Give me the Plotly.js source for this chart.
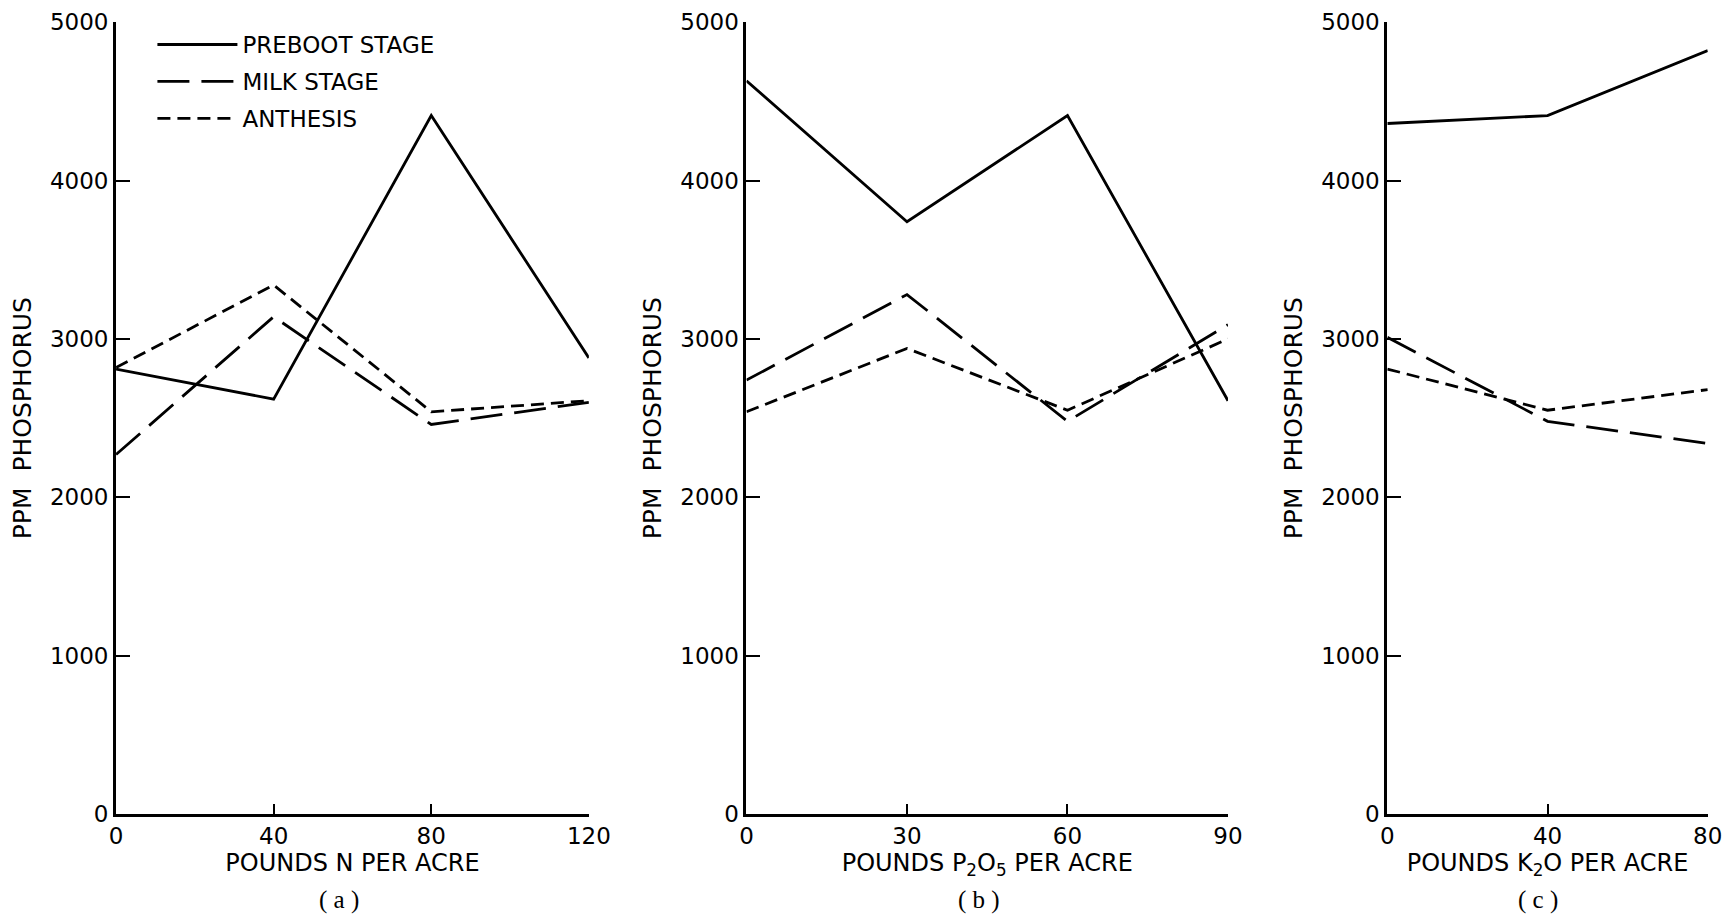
<!DOCTYPE html>
<html>
<head>
<meta charset="utf-8">
<script src="https://cdn.plot.ly/plotly-3.0.1.min.js"></script>
<style>html,body{margin:0;padding:0;background:#fff;}#chart{width:1732px;height:921px;}</style>
</head>
<body>
<div id="chart"></div>
<script>
// Panel (a): nitrogen
const nRates = [0, 40, 80, 120];
const nPreboot = [2810, 2620, 4410, 2880];
const nMilk = [2270, 3140, 2460, 2600];
const nAnthesis = [2820, 3340, 2540, 2610];
// Panel (b): phosphate
const pRates = [0, 30, 60, 90];
const pPreboot = [4630, 3740, 4410, 2610];
const pMilk = [2740, 3280, 2480, 3090];
const pAnthesis = [2540, 2940, 2550, 3000];
// Panel (c): potash
const kRates = [0, 40, 80];
const kPreboot = [4360, 4410, 4820];
const kMilk = [3010, 2480, 2340];
const kAnthesis = [2810, 2550, 2680];

const seriesNames = ["PREBOOT STAGE", "MILK STAGE", "ANTHESIS"];
const yTicks = [0, 1000, 2000, 3000, 4000, 5000];
const xTitles = ["POUNDS N PER ACRE", "POUNDS P<sub>2</sub>O<sub>5</sub> PER ACRE", "POUNDS K<sub>2</sub>O PER ACRE"];
const panelLabels = ["( a )", "( b )", "( c )"];

const dashes = ["solid", "32px,12px", "13px,7px"];
const panels = [
  {x: nRates, ys: [nPreboot, nMilk, nAnthesis], xa: "x", ya: "y"},
  {x: pRates, ys: [pPreboot, pMilk, pAnthesis], xa: "x2", ya: "y2"},
  {x: kRates, ys: [kPreboot, kMilk, kAnthesis], xa: "x3", ya: "y3"}
];

const traces = [];
panels.forEach((p, pi) => {
  p.ys.forEach((ys, si) => {
    traces.push({
      type: "scatter", mode: "lines",
      x: p.x, y: ys, xaxis: p.xa, yaxis: p.ya,
      name: seriesNames[si], legendgroup: "g" + si,
      showlegend: pi === 0,
      line: {color: "#000", width: 2.8, dash: dashes[si]},
      hoverinfo: "skip"
    });
  });
});

const fontFam = "DejaVu Sans, Arial, sans-serif";
function xAxis(range, tickvals, title, domain, anchor) {
  return {
    domain: domain, range: range, anchor: anchor,
    tickvals: tickvals, ticks: "inside", ticklen: 10, tickwidth: 2, tickcolor: "#000",
    showline: true, linecolor: "#000", linewidth: 2.5, showgrid: false, zeroline: false,
    tickfont: {family: fontFam, size: 23, color: "#000"},
    title: {text: title, font: {family: fontFam, size: 24, color: "#000"}, standoff: 5},
    fixedrange: true
  };
}
function yAxis(domain, anchor) {
  return {
    domain: domain, range: [0, 5000], anchor: anchor,
    tickvals: yTicks, ticks: "inside", ticklen: 14, tickwidth: 2, tickcolor: "#000",
    showline: true, linecolor: "#000", linewidth: 3, showgrid: false, zeroline: false,
    tickfont: {family: fontFam, size: 23, color: "#000"},
    title: {text: "PPM  PHOSPHORUS", font: {family: fontFam, size: 25, color: "#000"}, standoff: 12},
    fixedrange: true
  };
}

const yDom = [0.116, 0.976];
const layout = {
  width: 1732, height: 921, autosize: false,
  margin: {l: 0, r: 0, t: 0, b: 0},
  paper_bgcolor: "#fff", plot_bgcolor: "#fff",
  font: {family: fontFam, color: "#000"},
  xaxis: xAxis([0, 120], nRates, xTitles[0], [0.067, 0.340], "y"),
  yaxis: yAxis(yDom, "x"),
  xaxis2: xAxis([0, 90], pRates, xTitles[1], [0.431, 0.709], "y2"),
  yaxis2: yAxis(yDom, "x2"),
  xaxis3: xAxis([0, 80], kRates, xTitles[2], [0.801, 0.986], "y3"),
  yaxis3: yAxis(yDom, "x3"),
  showlegend: true,
  legend: {
    x: 0.088, y: 0.975, xanchor: "left", yanchor: "top",
    bgcolor: "rgba(0,0,0,0)", borderwidth: 0,
    font: {family: fontFam, size: 23, color: "#000"},
    itemwidth: 80, tracegroupgap: 4, traceorder: "grouped"
  },
  annotations: panelLabels.map((t, i) => ({
    text: t, xref: "paper", yref: "paper",
    x: [339, 979, 1538][i] / 1732, y: 1 - 900 / 921,
    xanchor: "center", yanchor: "middle", showarrow: false,
    font: {family: "Liberation Serif, DejaVu Serif, serif", size: 25, color: "#000"}
  }))
};

Plotly.newPlot("chart", traces, layout, {staticPlot: true, displayModeBar: false});
</script>
</body>
</html>
